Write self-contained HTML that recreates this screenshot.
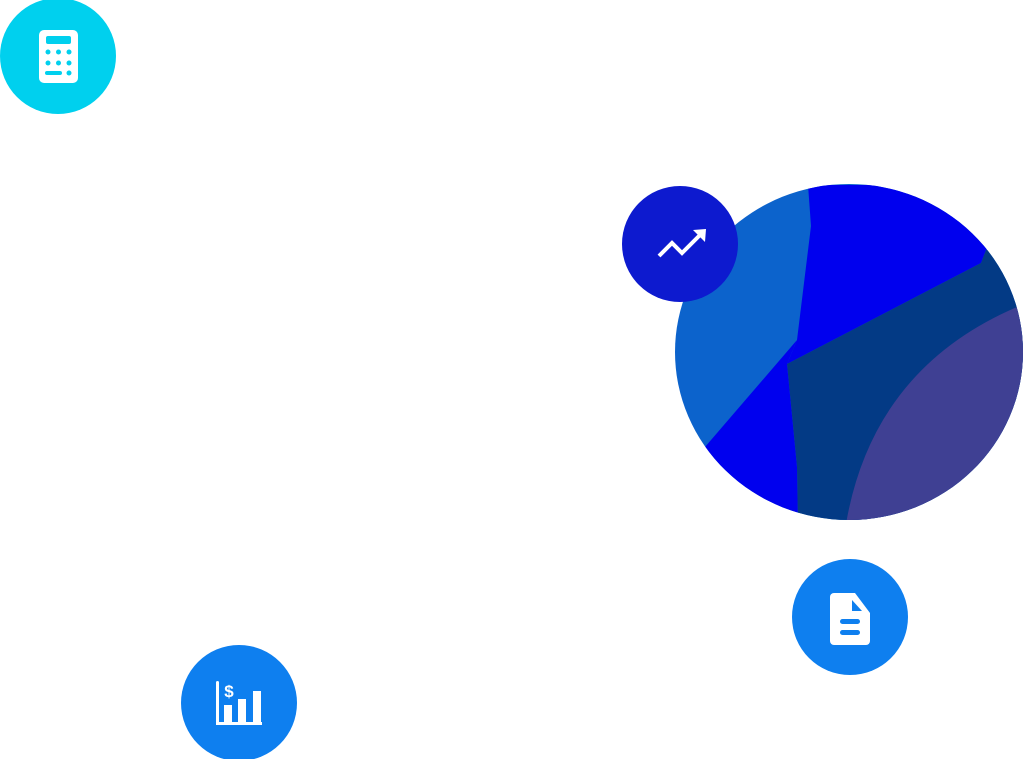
<!DOCTYPE html>
<html><head><style>html,body{margin:0;padding:0;background:#fff;width:1024px;height:759px;overflow:hidden}</style></head>
<body>
<svg width="1024" height="759" viewBox="0 0 1024 759" xmlns="http://www.w3.org/2000/svg">
<defs><clipPath id="c"><ellipse cx="849" cy="352" rx="174" ry="168"/></clipPath></defs>
<g clip-path="url(#c)">
<rect x="670" y="180" width="360" height="350" fill="#0C63CC"/>
<polygon points="808,185 1000,185 1000,240 986,250 981,263 787,364 797,340 811,226" fill="#0000EE"/>
<polygon points="986,250 1030,250 1030,530 798,530 797,467 787,364 981,263" fill="#033A85"/>
<polygon points="705,447 797,340 787,364 797,467 798,530 690,530" fill="#0000EE"/>
<path d="M1017,307 Q870,370 845,530 L1030,530 L1030,300 Z" fill="#3F4093"/>
</g>
<circle cx="58" cy="56" r="58" fill="#00D0EE"/>
<rect x="39" y="30" width="39" height="53" rx="5" fill="#fff"/>
<rect x="46" y="36" width="25" height="8" rx="2" fill="#00D0EE"/>
<g fill="#00D0EE"><circle cx="48" cy="52" r="2.5"/><circle cx="58.5" cy="52" r="2.5"/><circle cx="69" cy="52" r="2.5"/><circle cx="48" cy="63" r="2.5"/><circle cx="58.5" cy="63" r="2.5"/><circle cx="69" cy="63" r="2.5"/><rect x="45" y="71" width="17" height="4" rx="2"/><circle cx="69" cy="73" r="2.5"/></g>
<circle cx="680" cy="244" r="58" fill="#0D1ACF"/>
<polyline points="659,256 672,243 682,253 702,233" fill="none" stroke="#fff" stroke-width="4"/>
<polygon points="693,230 706,229 705,242" fill="#fff"/>
<circle cx="850" cy="617" r="58" fill="#0E7FEF"/>
<path d="M834,593 H855 L870,613 V641 a4,4 0 0 1 -4,4 H834 a4,4 0 0 1 -4,-4 V597 a4,4 0 0 1 4,-4Z" fill="#fff"/>
<polygon points="852,600 852,611 862,611" fill="#0E7FEF"/>
<rect x="840" y="619" width="20" height="5" rx="2.5" fill="#0E7FEF"/>
<rect x="840" y="630" width="20" height="5" rx="2.5" fill="#0E7FEF"/>
<circle cx="239" cy="703" r="58" fill="#0E7FEF"/>
<g fill="#fff">
<rect x="216" y="681" width="3" height="44" rx="1.5"/>
<rect x="216" y="722" width="46" height="3"/>
<rect x="224" y="705" width="8" height="19"/>
<rect x="238" y="699" width="8" height="25"/>
<rect x="253" y="691" width="8" height="33"/>
</g>
<text x="229" y="697" font-family="Liberation Sans, sans-serif" font-size="17" font-weight="bold" fill="#fff" text-anchor="middle">$</text>
</svg>
</body></html>
